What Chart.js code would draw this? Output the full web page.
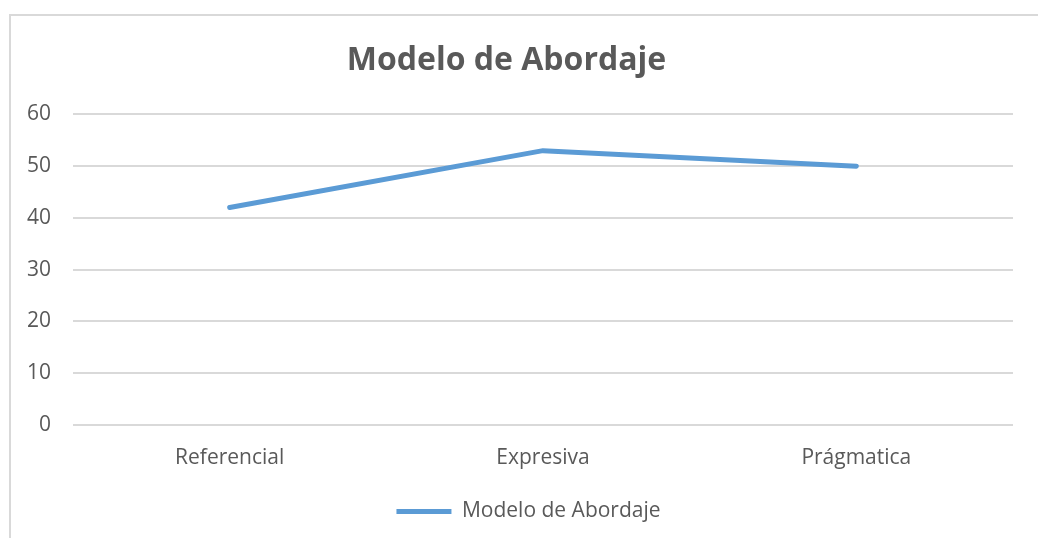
<!DOCTYPE html>
<html>
<head>
<meta charset="utf-8">
<script src="https://cdn.jsdelivr.net/npm/chart.js@4.4.0/dist/chart.umd.min.js"></script>
<style>
  html, body { margin: 0; padding: 0; background: #fff; overflow: hidden; }
  #frame { position: absolute; left: 9px; top: 14px; width: 1100px; height: 600px; border: 2px solid #d9d9d9; box-sizing: border-box; }
  #wrap { position: absolute; left: 0; top: 0; width: 1038px; height: 538px; }
</style>
</head>
<body>
<div id="frame"></div>
<div id="wrap"><canvas id="c" width="1038" height="538"></canvas></div>
<script>
const categories = ["Referencial", "Expresiva", "Prágmatica"];
const seriesName = "Modelo de Abordaje";
const seriesValues = [42, 53, 50];
const yTicks = [0, 10, 20, 30, 40, 50, 60];
const chartTitle = "Modelo de Abordaje";

const blue = "#5B9BD5";
const textGray = "#595959";

const legendShift = {
  id: "legendShift",
  beforeDraw(chart) {
    const lg = chart.legend;
    if (lg && !lg._shifted) { lg.left += 22; lg.right += 22; lg._shifted = true; }
  }
};

new Chart(document.getElementById("c"), {
  type: "line",
  data: {
    labels: categories,
    datasets: [{
      label: seriesName,
      data: seriesValues,
      borderColor: blue,
      backgroundColor: blue,
      borderWidth: 5,
      borderCapStyle: "round",
      borderJoinStyle: "round",
      pointRadius: 0,
      pointHoverRadius: 0,
      tension: 0,
      fill: false
    }]
  },
  plugins: [legendShift],
  options: {
    responsive: false,
    animation: false,
    layout: { padding: { left: 0, right: 25, top: 0, bottom: 6 } },
    plugins: {
      title: {
        display: true,
        text: chartTitle,
        color: textGray,
        font: { family: "'Open Sans', sans-serif", size: 32, weight: "bold" },
        padding: { top: 42, bottom: 34 }
      },
      legend: {
        display: true,
        position: "bottom",
        labels: {
          color: textGray,
          font: { family: "'Open Sans', sans-serif", size: 21 },
          usePointStyle: true,
          pointStyle: "line",
          pointStyleWidth: 55,
          boxHeight: 5,
          padding: 10
        }
      },
      tooltip: { enabled: false }
    },
    scales: {
      x: {
        offset: true,
        grid: { display: false, drawTicks: false },
        border: { display: false },
        ticks: {
          color: textGray,
          font: { family: "'Open Sans', sans-serif", size: 21 },
          padding: 20
        },
        afterFit(scale) { scale.height = 66; }
      },
      y: {
        min: 0,
        max: 60,
        afterBuildTicks(scale) { scale.ticks = yTicks.map(v => ({ value: v })); },
        grid: { color: "#d9d9d9", lineWidth: 2, drawTicks: false },
        border: { display: false },
        ticks: {
          color: textGray,
          font: { family: "'Open Sans', sans-serif", size: 21 },
          padding: 22
        },
        afterFit(scale) { scale.width = 73; }
      }
    }
  }
});
</script>
</body>
</html>
